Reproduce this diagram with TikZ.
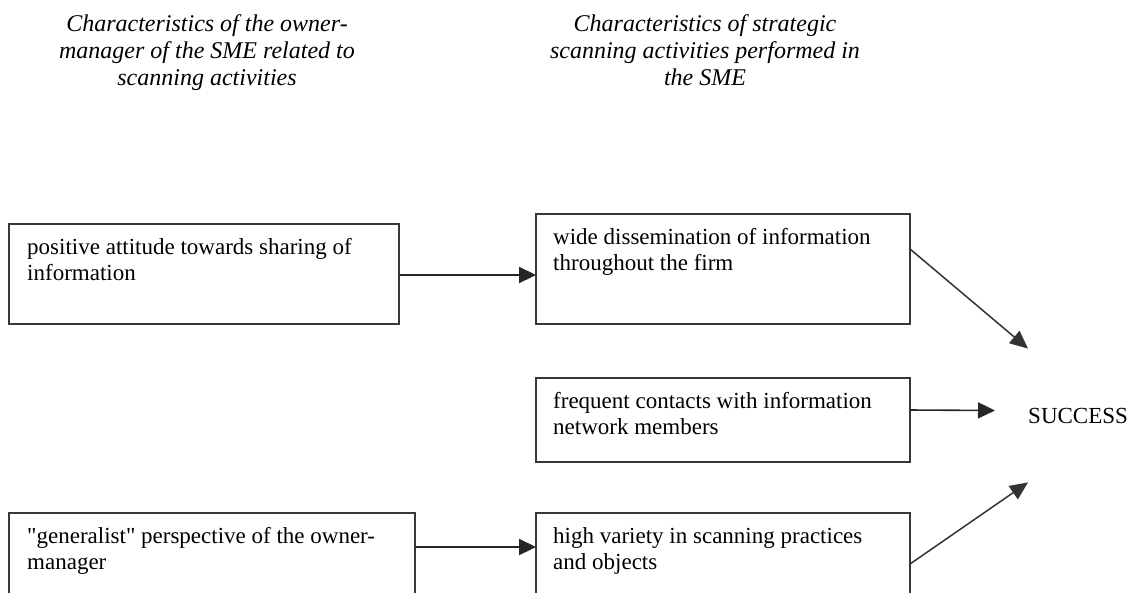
\documentclass[tikz,border=0pt]{standalone}
\usepackage{fontspec}
\setmainfont{Liberation Serif}[Ligatures=TeXOff]
\usetikzlibrary{arrows.meta}
\begin{document}
\begin{tikzpicture}[x=1pt,y=-1pt,
  box/.style={draw=black!78, line width=1.8pt, anchor=north west, inner sep=0pt, outer sep=0pt},
  boxtext/.style={anchor=north west, inner sep=0pt, align=left, font=\fontsize{23}{26}\selectfont},
  header/.style={anchor=north, inner sep=0pt, align=center, font=\itshape\fontsize{24}{27}\selectfont},
  arr/.style={draw=black!85, line width=2.2pt, -{Triangle[length=17pt,width=16pt]}},
  thinarr/.style={draw=black!85, line width=1.6pt, -{Triangle[length=17pt,width=16pt]}},
  darr/.style={draw=black!80, line width=1.5pt, -{Triangle[length=18pt,width=16pt]}}]
\useasboundingbox (0,0) rectangle (1134,592);
\clip (0,0) rectangle (1134,592);

% headers
\node[header] (H1) at (207,14) {\rule{0pt}{17pt}Characteristics of the owner-\\manager of the SME related to\\scanning activities};
\node[header] (H2) at (705,14) {\rule{0pt}{17pt}Characteristics of strategic\\scanning activities performed in\\the SME};

% boxes
\node[box, minimum width=390pt, minimum height=100pt] (A1) at (9,224) {};
\node[box, minimum width=406pt, minimum height=100pt] (A2) at (9,513) {};
\node[box, minimum width=374pt, minimum height=110pt] (B1) at (536,214) {};
\node[box, minimum width=374pt, minimum height=84pt] (B2) at (536,378) {};
\node[box, minimum width=374pt, minimum height=100pt] (B3) at (536,513) {};

% box texts
\node[boxtext] (A1t) at ([xshift=18pt,yshift=-13pt]A1.north west) {\rule{0pt}{17pt}positive attitude towards sharing of\\information};
\node[boxtext] (A2t) at ([xshift=18pt,yshift=-13pt]A2.north west) {\rule{0pt}{17pt}"generalist" perspective of the owner-\\manager};
\node[boxtext] (B1t) at ([xshift=17pt,yshift=-13pt]B1.north west) {\rule{0pt}{17pt}wide dissemination of information\\throughout the firm};
\node[boxtext] (B2t) at ([xshift=17pt,yshift=-13pt]B2.north west) {\rule{0pt}{17pt}frequent contacts with information\\network members};
\node[boxtext] (B3t) at ([xshift=17pt,yshift=-13pt]B3.north west) {\rule{0pt}{17pt}high variety in scanning practices\\and objects};

% success
\node[anchor=base west, inner sep=0pt, font=\fontsize{23}{26}\selectfont] (S) at (1028,423) {SUCCESS};

% connectors
\draw[arr] ([yshift=-51pt]A1.north east) -- ([yshift=-61pt]B1.north west);
\draw[arr] ([yshift=-34pt]A2.north east) -- ([yshift=-34pt]B3.north west);
\draw[darr] ([yshift=-35pt]B1.north east) -- ([yshift=59pt]S.north west);
\draw[thinarr] ([yshift=-32pt]B2.north east) -- ([xshift=-33pt,yshift=5pt]S.west);
\draw[darr] ([yshift=-51pt]B3.north east) -- ([yshift=-59pt]S.south west);
\end{tikzpicture}
\end{document}
